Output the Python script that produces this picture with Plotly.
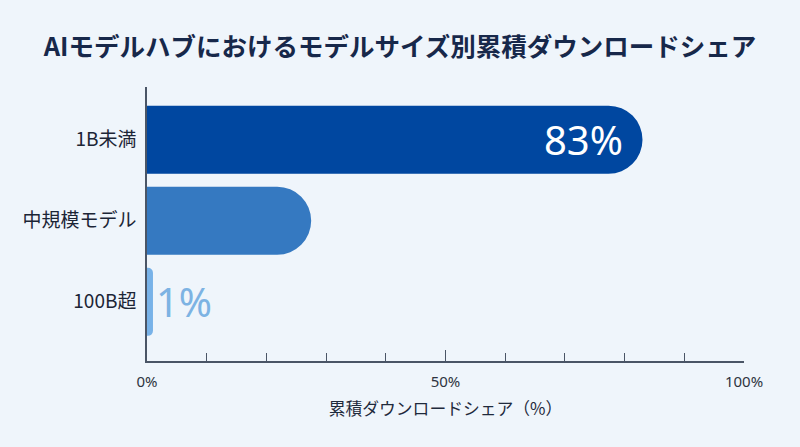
import plotly.graph_objects as go

# data, bottom to top
categories = ["100B超", "中規模モデル", "1B未満"]
shares = [1, 27.5, 83]
bar_labels = ["1%", "", "83%"]
bar_colors = ["#78B2E8", "#3579C1", "#0047A0"]
label_colors = ["#7DB3E3", "#FFFFFF", "#FFFFFF"]

x_tick_vals = [0, 50, 100]
x_tick_text = ["0%", "50%", "100%"]

title_text = "AIモデルハブにおけるモデルサイズ別累積ダウンロードシェア"
x_title = "累積ダウンロードシェア（%）"

font_family = "Noto Sans CJK JP"
bg = "#EFF5FB"

fig = go.Figure()
fig.add_trace(go.Bar(
    x=shares,
    y=categories,
    orientation="h",
    marker=dict(color=bar_colors, line=dict(width=0)),
    width=0.84,
    text=bar_labels,
    textposition=["outside", "none", "inside"],
    insidetextanchor="end",
    textfont=dict(family="Noto Sans", size=40, color=label_colors),
    cliponaxis=False,
    hoverinfo="skip",
))

fig.update_layout(
    width=800,
    height=447,
    paper_bgcolor=bg,
    plot_bgcolor=bg,
    margin=dict(l=147, r=56, t=87, b=86),
    barcornerradius=34,
    showlegend=False,
    font=dict(family=font_family, color="#1F2A3C"),
    title=dict(
        text="<b>" + title_text + "</b>",
        x=0.5,
        xanchor="center",
        y=0.895,
        yanchor="middle",
        font=dict(family=font_family, size=25.5, color="#17284A"),
    ),
)

fig.update_xaxes(
    range=[0, 100],
    tickmode="array",
    tickvals=x_tick_vals,
    ticktext=x_tick_text,
    ticks="inside",
    ticklen=11,
    tickcolor="#4A5566",
    ticklabelstandoff=6,
    tickfont=dict(family="Noto Sans", size=15, color="#2E3440"),
    minor=dict(dtick=10, ticks="inside", ticklen=8, tickcolor="#4A5566"),
    showline=True,
    linecolor="#4A5566",
    linewidth=1.5,
    showgrid=False,
    zeroline=False,
    title=dict(text=x_title, standoff=13, font=dict(family=font_family, size=16.8, color="#1F2A3C")),
)

fig.update_yaxes(
    range=[-0.73, 2.65],
    showline=True,
    linecolor="#4A5566",
    linewidth=1.5,
    showgrid=False,
    ticks="",
    ticklabelstandoff=5,
    tickfont=dict(family=font_family, size=19, color="#1C2536"),
)

# page body margin would shift the figure, so drop it
fig.write_html(
    "out.html",
    config={"displayModeBar": False},
    post_script="document.body.style.margin='0';document.body.style.background='" + bg + "';",
)
